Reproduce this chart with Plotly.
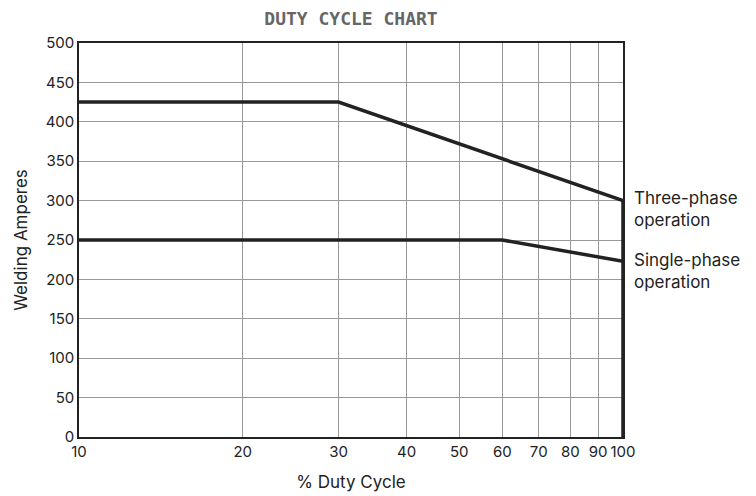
import plotly.graph_objects as go

duty_ticks = [10, 20, 30, 40, 50, 60, 70, 80, 90, 100]
tick_labels = ["10", "20", "30", "40", "50", "60", "70", "80", "90", "100"]
amp_ticks = [0, 50, 100, 150, 200, 250, 300, 350, 400, 450, 500]

three_x = [10, 30, 100]
three_y = [425, 425, 300]
single_x = [10, 60, 100]
single_y = [250, 250, 223]
limit_x = [100, 100]
limit_y = [0, 300]

line_color = "#222222"
fig = go.Figure()
for xs, ys in [(three_x, three_y), (single_x, single_y), (limit_x, limit_y)]:
    fig.add_trace(go.Scatter(x=xs, y=ys, mode="lines",
                             line=dict(color=line_color, width=3.5),
                             showlegend=False, hoverinfo="skip"))

fig.add_annotation(x=1, xref="paper", y=three_y[-1], yref="y",
                   text="Three-phase<br>operation", showarrow=False,
                   xanchor="left", yanchor="middle", xshift=9, yshift=-8,
                   align="left", font=dict(family="Inter", size=17, color="#222"))
fig.add_annotation(x=1, xref="paper", y=single_y[-1], yref="y",
                   text="Single-phase<br>operation", showarrow=False,
                   xanchor="left", yanchor="middle", xshift=9, yshift=-10,
                   align="left", font=dict(family="Inter", size=17, color="#222"))

fig.update_layout(
    width=756, height=496,
    margin=dict(l=71, r=141, t=35, b=67),
    paper_bgcolor="white", plot_bgcolor="white",
    title=dict(text="<b>DUTY CYCLE CHART</b>", x=(71 + 272) / 756, xanchor="center",
               y=1 - 11 / 496, yanchor="middle",
               font=dict(family="DejaVu Sans Mono", size=18, color="#666")),
    font=dict(family="Inter", size=15, color="#222"),
)
fig.update_xaxes(type="log", range=[1, 2], tickvals=duty_ticks, ticktext=tick_labels,
                 showgrid=True, gridcolor="#999", gridwidth=1,
                 showline=True, linecolor="#222", linewidth=1.5, mirror=True,
                 ticks="", zeroline=False,
                 title=dict(text="% Duty Cycle", font=dict(size=17), standoff=16),
                 tickfont=dict(size=15))
fig.update_yaxes(range=[0, 500], tickvals=amp_ticks,
                 showgrid=True, gridcolor="#999", gridwidth=1,
                 showline=True, linecolor="#222", linewidth=1.5, mirror=True,
                 ticks="", zeroline=False,
                 title=dict(text="Welding Amperes", font=dict(size=17), standoff=14),
                 tickfont=dict(size=15))

fig.write_html("out.html")
